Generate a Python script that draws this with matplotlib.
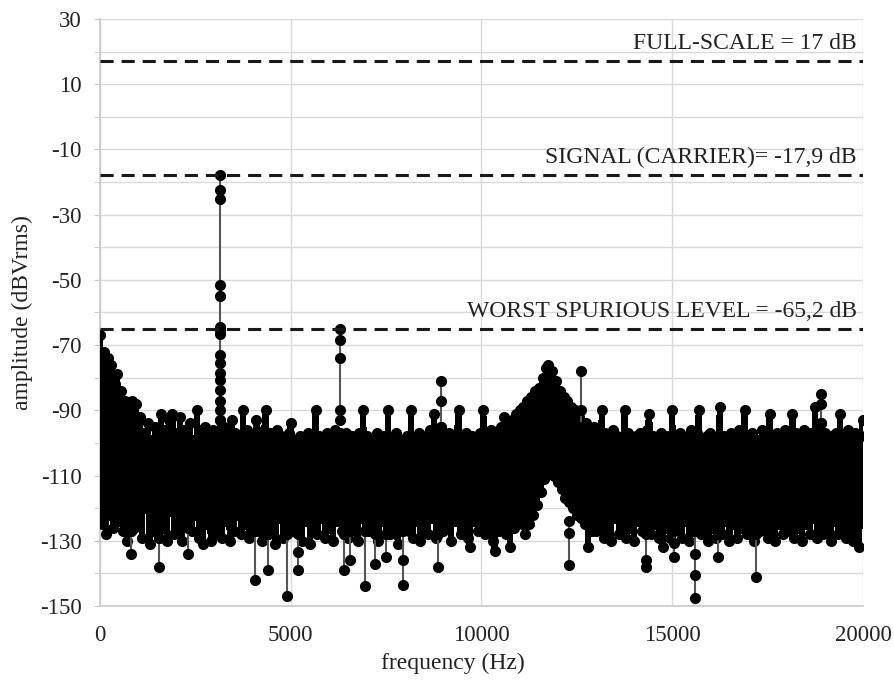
import matplotlib
matplotlib.use('Agg')
import matplotlib.pyplot as plt
from matplotlib.collections import LineCollection
import numpy as np

# noise floor of the spectrum, one value per 50 Hz bin
bin_hz = 50
amp = [
    -67, -125, -72, -128, -74, -122, -76, -126, -82, -79, -124, -84, -127, -87, -130, -89, -127, -87, -126, -88,
    -125, -92, -129, -97, -120, -94, -131, -99, -127, -95, -123, -129, -91, -126, -96, -130, -93, -121, -91, -128,
    -97, -126, -92, -130, -96, -124, -126, -94, -127, -99, -122, -90, -129, -97, -131, -95, -125, -98, -130, -96,
    -128, -97, -126, -93, -129, -95, -124, -98, -130, -93, -127, -97, -122, -99, -128, -90, -125, -96, -129, -98,
    -124, -99, -93, -127, -98, -130, -96, -90, -128, -97, -126, -99, -131, -96, -123, -98, -129, -100, -128, -97,
    -94, -127, -99, -125, -126, -98, -130, -100, -124, -97, -131, -99, -126, -90, -128, -98, -123, -100, -129, -97,
    -126, -98, -130, -96, -124, -99, -97, -127, -128, -97, -129, -101, -98, -125, -100, -130, -97, -123, -90, -127,
    -98, -127, -99, -125, -100, -97, -130, -100, -124, -98, -128, -90, -128, -99, -126, -97, -131, -100, -127, -99,
    -126, -98, -127, -90, -129, -99, -124, -97, -130, -100, -126, -98, -128, -96, -123, -91, -129, -128, -98, -95,
    -127, -99, -125, -97, -130, -100, -124, -98, -90, -128, -99, -126, -97, -129, -132, -98, -124, -100, -127, -97,
    -125, -90, -128, -98, -126, -96, -130, -133, -97, -127, -95, -124, -92, -128, -94, -132, -93, -126, -91, -124,
    -90, -125, -89, -128, -87, -125, -86, -122, -84, -119, -83, -115, -80, -111, -77, -76, -109, -78, -110, -81,
    -112, -84, -114, -86, -117, -87, -118, -89, -120, -90, -122, -92, -123, -96, -125, -94, -132, -96, -127, -95,
    -127, -98, -124, -90, -129, -97, -126, -99, -130, -96, -123, -98, -128, -100, -125, -90, -129, -97, -126, -99,
    -130, -98, -124, -97, -127, -99, -126, -96, -91, -128, -98, -125, -100, -129, -97, -132, -99, -126, -98, -129,
    -90, -125, -98, -126, -97, -129, -100, -124, -98, -130, -96, -127, -126, -97, -90, -128, -99, -125, -98, -130,
    -97, -126, -99, -129, -100, -89, -128, -98, -124, -100, -130, -97, -125, -98, -129, -96, -126, -99, -90, -128,
    -98, -125, -97, -130, -100, -99, -127, -96, -124, -98, -129, -91, -126, -98, -130, -97, -125, -99, -128, -96,
    -127, -98, -124, -91, -129, -97, -126, -99, -130, -96, -125, -98, -128, -97, -123, -89, -129, -96, -94, -128,
    -97, -125, -99, -130, -98, -124, -97, -128, -91, -127, -98, -129, -96, -126, -99, -130, -97, -125, -132, -98, -93,
]
freq = np.arange(len(amp)) * bin_hz

# carrier, harmonics and isolated spurs: several points on one frequency
spur_freqs = [3150, 6300, 8950, 12600, 18900, 5200, 15050, 15600, 14300, 12300, 7950,
              800, 1550, 2300, 4050, 4400, 4900, 6400, 6550, 6950, 7200, 7500, 8850, 16200, 17200]
spur_levels = [
    [-17.9, -22.5, -25.2, -51.6, -55, -64.5, -65.5, -66.5, -73, -75.5, -78.5, -80.7, -83.8, -87, -90, -93],
    [-65.2, -68.5, -74, -90, -93],
    [-81, -87, -95],
    [-78, -90, -95],
    [-85, -88, -94],
    [-128, -133.5, -139],
    [-127, -130.7, -135],
    [-127, -134, -140.5, -147.6],
    [-128, -136, -138],
    [-124, -127.7, -137.5],
    [-127, -136, -143.5],
    [-127, -134],
    [-129, -138],
    [-126, -134],
    [-127, -142],
    [-128, -139],
    [-128, -147],
    [-128, -139],
    [-127, -136],
    [-127, -144],
    [-128, -137],
    [-128, -135],
    [-128, -138],
    [-128, -135],
    [-128, -141],
]

ref_levels = [17, -17.9, -65.2]
ref_labels = ['FULL-SCALE = 17 dB', 'SIGNAL (CARRIER)= -17,9 dB', 'WORST SPURIOUS LEVEL = -65,2 dB']

plt.rcParams['font.family'] = 'Liberation Serif'
plt.rcParams['axes.unicode_minus'] = False

fig = plt.figure(figsize=(8.95, 6.84), dpi=100)
ax = fig.add_axes([100 / 895, 1 - 606 / 684, 763 / 895, 587 / 684])

# draw each step of the noise trace as its own segment so the dense band stays solid
pts = np.column_stack([freq, amp])
segs = np.stack([pts[:-1], pts[1:]], axis=1)
ax.add_collection(LineCollection(segs, colors='black', linewidths=3.6, capstyle='round',
                                 antialiaseds=False, zorder=3))
ax.plot(freq, amp, ls='none', marker='o', ms=7, mfc='black', mec='black', zorder=3)

for f, lv in zip(spur_freqs, spur_levels):
    ax.plot([f] * len(lv), lv, color='#555555', lw=1.5, marker='o', ms=7,
            mfc='black', mec='black', zorder=3)

for lv, lab in zip(ref_levels, ref_labels):
    ax.axhline(lv, color='#1a1a1a', lw=2.2, ls=(0, (4.3, 2.6)), zorder=4)
    ax.text(19840, lv + 2.3, lab, ha='right', va='bottom', fontsize=17, color='#222222', zorder=5)

ax.set_xlim(0, 20000)
ax.set_ylim(-150, 30)
ax.set_xticks(range(0, 20001, 5000))
ax.set_yticks(range(-150, 31, 20))
ax.set_yticks(range(-140, 30, 20), minor=True)
ax.grid(which='both', color='#d9d9d9', lw=1)
ax.set_axisbelow(True)
for s in ['top', 'right']:
    ax.spines[s].set_visible(False)
for s in ['left', 'bottom']:
    ax.spines[s].set_color('#c8c8c8')
    ax.spines[s].set_linewidth(1.2)
ax.tick_params(axis='y', which='both', length=4, color='#c8c8c8', labelsize=16.5, pad=9, labelcolor='#222222')
ax.tick_params(axis='x', length=0, labelsize=16.5, pad=14, labelcolor='#222222')

fig.text(22 / 895, 0.543, 'amplitude (dBVrms)', rotation=90, ha='center', va='center', fontsize=17, color='#222222')
fig.text(453 / 895, 1 - 663 / 684, 'frequency (Hz)', ha='center', va='center', fontsize=17, color='#222222')

fig.savefig('out.png', dpi=100)
